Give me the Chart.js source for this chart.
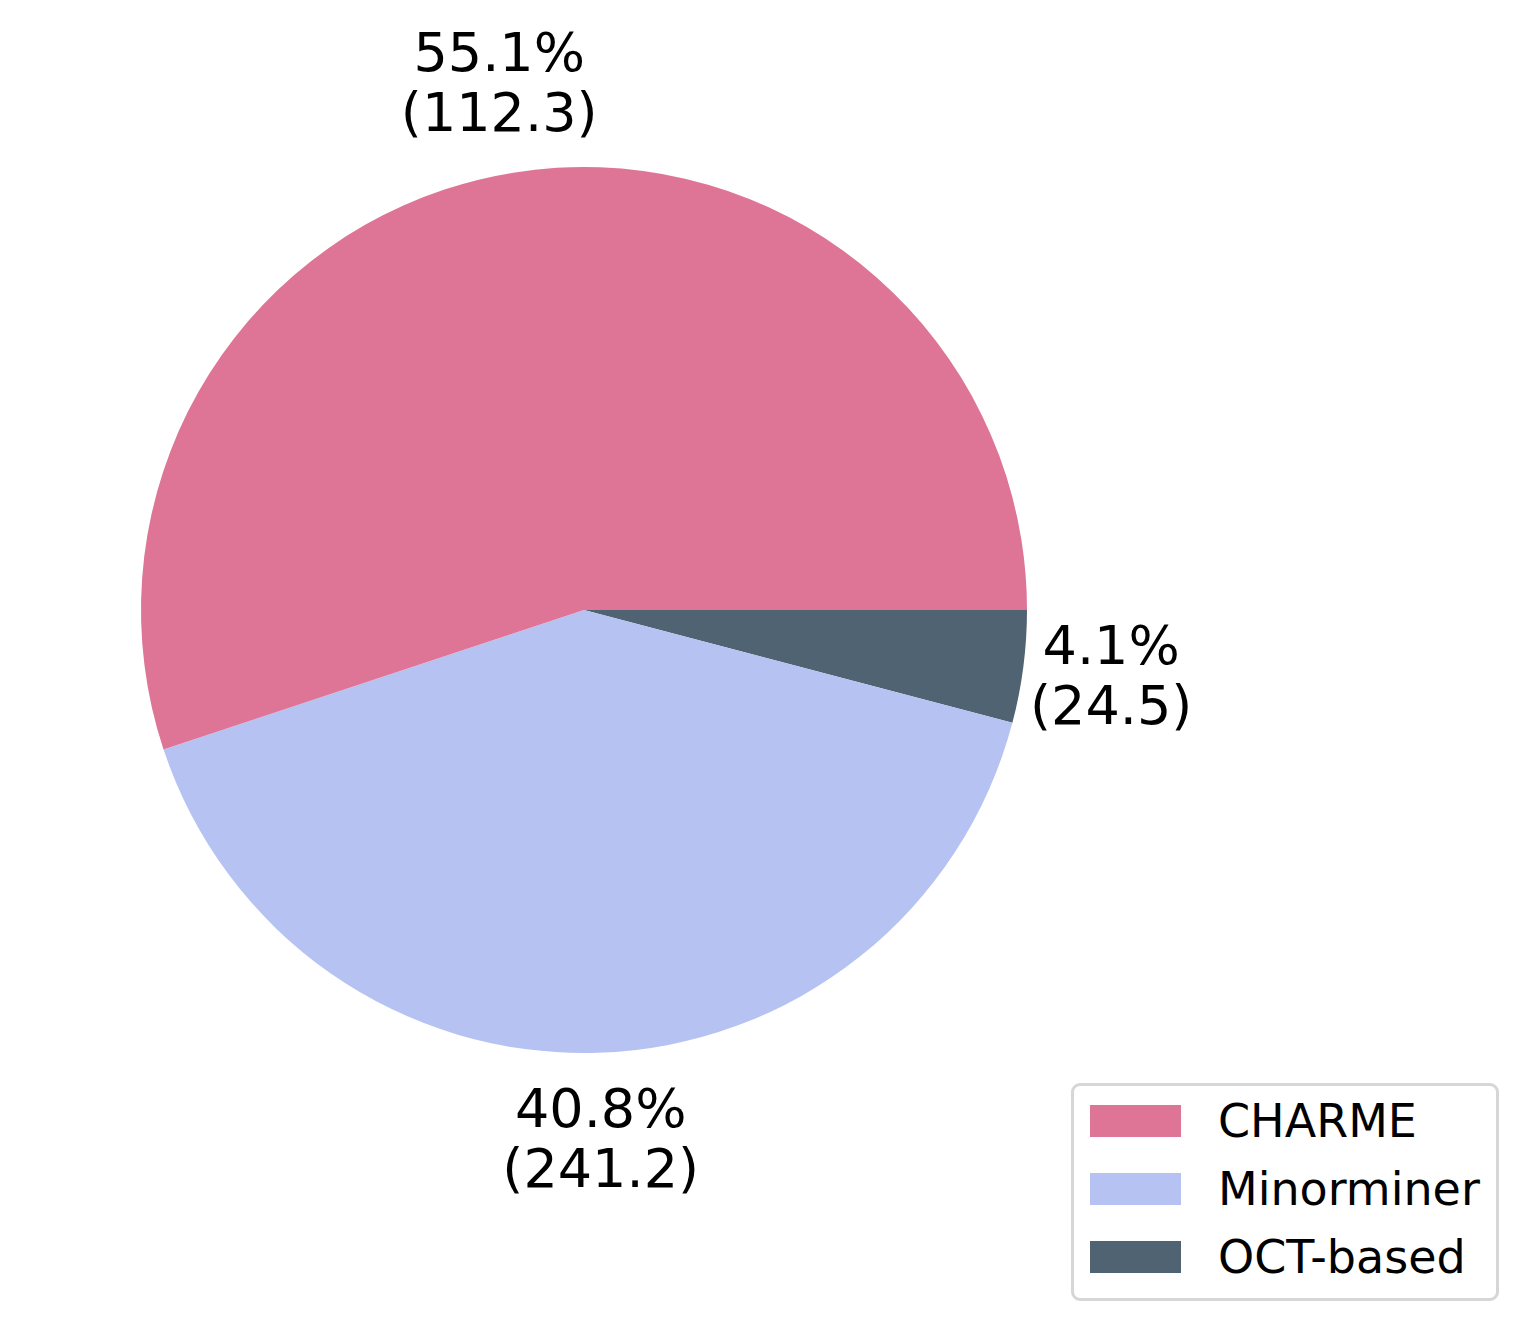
<!DOCTYPE html>
<html>
<head>
<meta charset="utf-8">
<script src="https://cdn.jsdelivr.net/npm/chart.js@4.4.1/dist/chart.umd.min.js"></script>
<style>
    html, body { margin: 0; padding: 0; background: #fff; }
    #wrap { position: relative; width: 1527px; height: 1331px; }
    #legend {
        position: absolute; left: 1071px; top: 1083px; width: 422px; height: 212px;
        border: 3px solid #d6d6d6; border-radius: 9px; background: #fff;
        font-family: "DejaVu Sans", sans-serif; font-size: 46px; color: #000;
    }
    .row { position: absolute; left: 16px; height: 32px; }
    .sw { position: absolute; left: 0; top: 0; width: 91px; height: 32px; }
    .lbl { position: absolute; left: 128px; top: -12px; white-space: nowrap; line-height: 56px; }
</style>
</head>
<body>
<div id="wrap">
    <canvas id="pieChart" width="1527" height="1331"></canvas>
    <div id="legend"></div>
</div>
<script>
// Chart data (legend order)
const categories = ['CHARME', 'Minorminer', 'OCT-based'];
const shares = [55.1, 40.8, 4.1];
const bracketValues = ['112.3', '241.2', '24.5'];
const colors = ['#de7596', '#b6c3f2', '#4f6373'];

// matplotlib goes counter-clockwise, Chart.js clockwise -> reverse the order
const order = [2, 1, 0];

// Percent / value labels outside the slices
const sliceLabels = {
    id: 'sliceLabels',
    afterDatasetsDraw(chart) {
        const ctx = chart.ctx;
        const meta = chart.getDatasetMeta(0);
        ctx.save();
        ctx.font = '54px "DejaVu Sans", sans-serif';
        ctx.fillStyle = '#000';
        ctx.textAlign = 'center';
        ctx.textBaseline = 'middle';
        meta.data.forEach(function (arc, i) {
            const k = order[i];
            const mid = (arc.startAngle + arc.endAngle) / 2;
            const r = arc.outerRadius * 1.2;
            const x = arc.x + Math.cos(mid) * r;
            const y = arc.y + Math.sin(mid) * r;
            ctx.fillText(shares[k].toFixed(1) + '%', x, y - 28);
            ctx.fillText('(' + bracketValues[k] + ')', x, y + 32);
        });
        ctx.restore();
    }
};

const pieCtx = document.getElementById('pieChart').getContext('2d');
const pieChart = new Chart(pieCtx, {
    type: 'pie',
    data: {
        labels: order.map(i => categories[i]),
        datasets: [{
            data: order.map(i => shares[i]),
            backgroundColor: order.map(i => colors[i]),
            borderWidth: 0
        }]
    },
    options: {
        responsive: false,
        animation: false,
        rotation: 90,
        layout: {
            padding: { left: 141, right: 500, top: 167, bottom: 278 }
        },
        plugins: {
            legend: { display: false },
            tooltip: { enabled: false }
        }
    },
    plugins: [sliceLabels]
});

// Legend
const legendEl = document.getElementById('legend');
categories.forEach(function (name, i) {
    const row = document.createElement('div');
    row.className = 'row';
    row.style.top = (19 + i * 68) + 'px';
    row.innerHTML = '<div class="sw" style="background:' + colors[i] + '"></div><div class="lbl">' + name + '</div>';
    legendEl.appendChild(row);
});
</script>
</body>
</html>
